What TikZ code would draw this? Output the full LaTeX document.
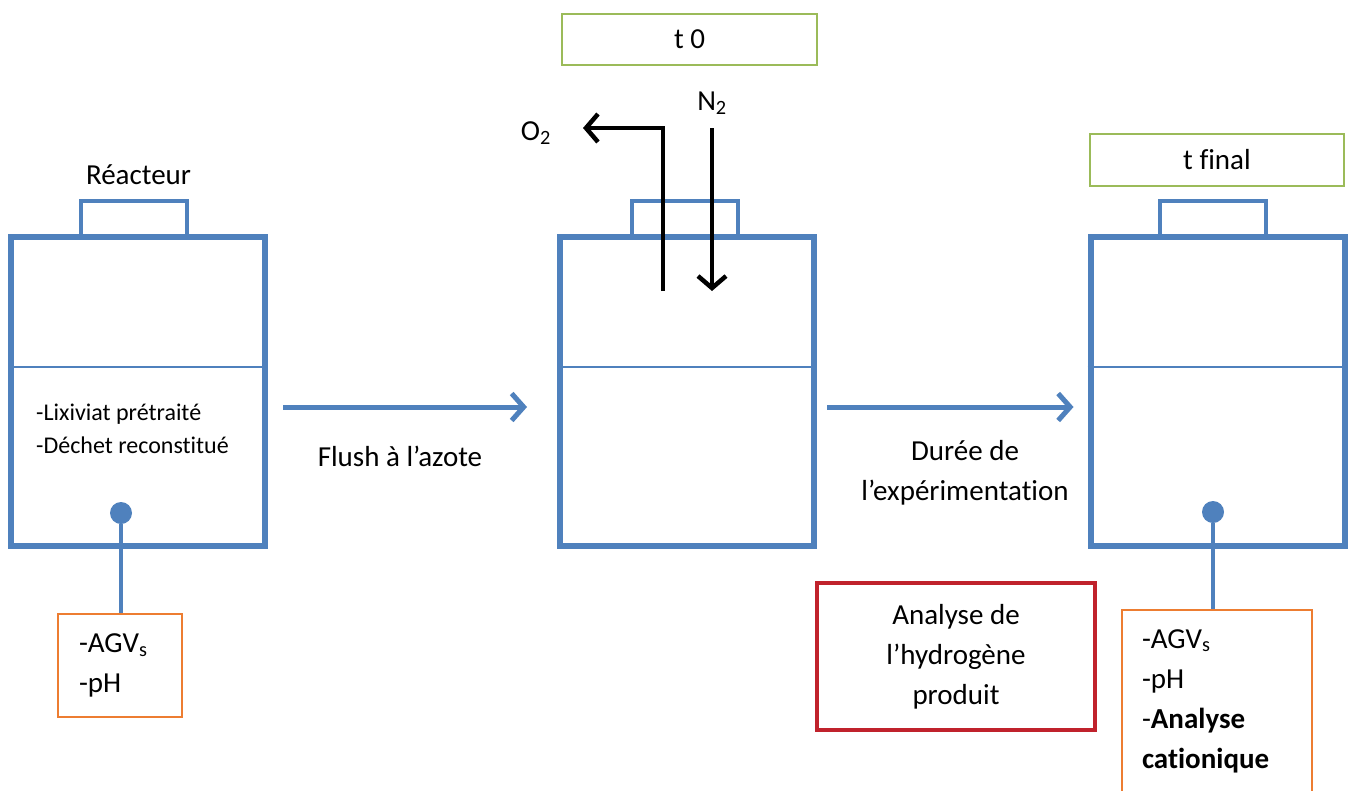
\documentclass[tikz,border=0pt]{standalone}
\usepackage{fontspec}
\setmainfont{Carlito}[Ligatures=NoCommon]
\usetikzlibrary{arrows.meta}
\definecolor{rblue}{HTML}{4F81BD}
\definecolor{rgreen}{HTML}{9BBB59}
\definecolor{rorange}{HTML}{ED7D31}
\definecolor{rred}{HTML}{C0222C}
\tikzset{
  big/.style={font=\fontsize{29}{40}\selectfont},
  small/.style={font=\fontsize{24}{33}\selectfont},
  reactor/.style={draw=rblue, line width=6pt, minimum width=254pt, minimum height=309pt, inner sep=0pt},
  capbox/.style={draw=rblue, line width=4pt, minimum width=106pt, minimum height=35pt, inner sep=0pt},
  divider/.style={draw=rblue, line width=2.5pt},
  dot/.style={circle, fill=rblue, minimum size=22pt, inner sep=0pt},
  tbox/.style={draw=rgreen, line width=2pt, big, inner sep=0pt},
  obox/.style={draw=rorange, line width=2pt, big, align=left, inner sep=0pt},
  rbox/.style={draw=rred, line width=3.5pt, big, align=center, inner sep=0pt, minimum width=278pt, minimum height=147pt},
  flow/.style={draw=rblue, line width=5pt, -{Straight Barb[length=12pt, width=27pt, line width=5pt]}},
  gas/.style={draw=black, line width=4.5pt, -{Straight Barb[length=12pt, width=28pt, line width=4.5pt]}},
  link/.style={draw=rblue, line width=3.5pt},
  lbl/.style={big, inner sep=0pt}
}
\begin{document}
\begin{tikzpicture}[x=1pt, y=-1pt]
\clip (0,0) rectangle (1351,790);
\fill[white] (0,0) rectangle (1351,790);
% reactor 1
\node[capbox] (c1) at (133.5,218.5) {};
\node[reactor] (r1) at (138,391) {};
\draw[divider] (r1.west |- 0,367) -- (r1.east |- 0,367);
\node[lbl] (reac) at (138.5,175) {Réacteur};
\node[small, align=left, anchor=west, inner sep=0pt] (mix) at (36,429) {-Lixiviat prétraité\\-Déchet reconstitué};
\node[dot] (d1) at (121,513) {};
\node[obox, minimum width=124pt, minimum height=103pt, text width=82pt] (b1) at (120,665.5) {-AGV\textsubscript{s}\\-pH};
\draw[link] (d1) -- (d1 |- b1.north);
% reactor 2
\node[capbox] (c2) at (684.5,218.5) {};
\node[reactor] (r2) at (687,391) {};
\draw[divider] (r2.west |- 0,367) -- (r2.east |- 0,367);
\node[tbox, minimum width=255pt, minimum height=51pt] (t0) at (689.5,39.5) {\raisebox{-3pt}{t 0}};
\coordinate (o2in) at (663,291);
\coordinate (o2c) at (663,128);
\node[lbl, anchor=east] (o2) at (551,133) {O\textsubscript{2}};
\coordinate (o2end) at (583,128);
\draw[gas] (o2in) -- (o2c) -- (o2end);
\node[lbl] (n2) at (712,103) {N\textsubscript{2}};
\coordinate (n2top) at (712,128);
\coordinate (n2bot) at (712,291);
\draw[gas] (n2top) -- (n2bot);
% reactor 3
\node[capbox] (c3) at (1213,218.5) {};
\node[reactor] (r3) at (1217.5,391) {};
\draw[divider] (r3.west |- 0,367) -- (r3.east |- 0,367);
\node[tbox, minimum width=254pt, minimum height=52pt] (tf) at (1217,160) {\raisebox{-2pt}{t final}};
\node[dot] (d3) at (1213,512) {};
\node[obox, minimum width=190pt, minimum height=182pt, text width=150pt] (b2) at (1217,701) {-AGV\textsubscript{s}\\-pH\\-\textbf{Analyse}\\\textbf{cationique}};
\draw[link] (d3) -- (d3 |- b2.north);
% flows
\draw[flow] ([shift={(15,16)}]r1.east) -- ([shift={(-30,16)}]r2.west);
\node[lbl] (flush) at (400,456) {Flush à l’azote};
\draw[flow] ([shift={(10,16)}]r2.east) -- ([shift={(-14,16)}]r3.west);
\node[lbl, align=center] (duree) at (965,473) {Durée de\\l’expérimentation};
\node[rbox] (h2) at (956,656.5) {Analyse de\\l’hydrogène\\produit};
\end{tikzpicture}
\end{document}
